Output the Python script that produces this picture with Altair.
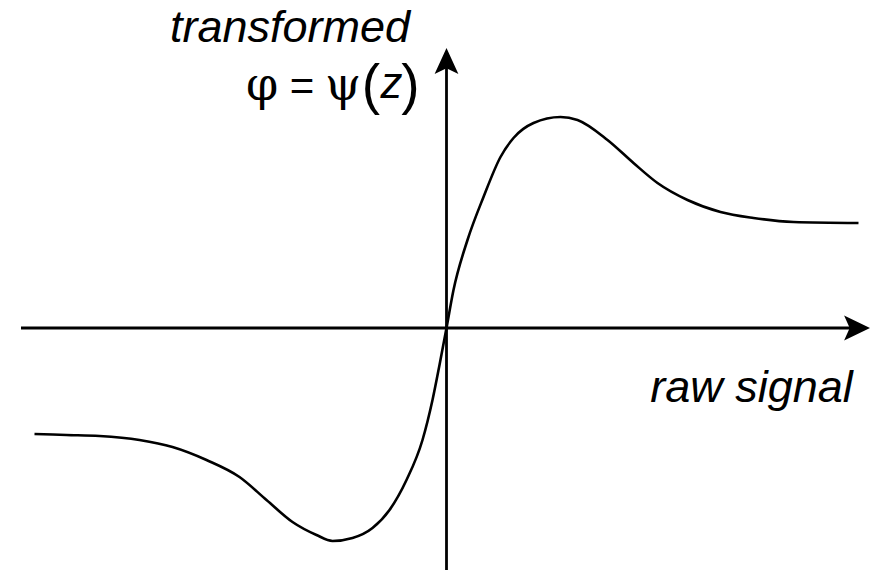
import altair as alt
import pandas as pd

# Sketch of a nonlinear transfer curve phi = psi(z), in arbitrary units
signal = [-4.12, -3.80, -3.47, -3.07, -2.74, -2.40, -2.07, -1.80, -1.54, -1.30,
          -1.14, -0.94, -0.74, -0.57, -0.40, -0.24, -0.14, -0.07, 0.00, 0.07,
          0.21, 0.37, 0.54, 0.67, 0.87, 1.14, 1.31, 1.61, 1.87, 2.11,
          2.41, 2.74, 3.07, 3.47, 4.12]
response = [-1.06, -1.07, -1.08, -1.12, -1.19, -1.32, -1.49, -1.72, -1.94, -2.07,
            -2.13, -2.10, -2.00, -1.82, -1.52, -1.12, -0.72, -0.37, 0.00, 0.38,
            0.88, 1.31, 1.71, 1.90, 2.05, 2.11, 2.08, 1.88, 1.65, 1.45,
            1.28, 1.16, 1.10, 1.06, 1.05]

x_label = "raw signal"
y_label = "transformed"
formula_greek = ["φ", "ψ"]
formula_equals = ["="]
formula_paren = ["(", ")"]
formula_var = ["z"]

X_DOMAIN = [-4.465, 4.335]
Y_DOMAIN = [-2.42, 3.28]


def X(field):
    return alt.X(field, type="quantitative",
                 scale=alt.Scale(domain=X_DOMAIN, nice=False, zero=False), axis=None)


def Y(field):
    return alt.Y(field, type="quantitative",
                 scale=alt.Scale(domain=Y_DOMAIN, nice=False, zero=False), axis=None)


def glyphs(labels, xpos, ypos, **style):
    df = pd.DataFrame({"label": labels, "x": xpos, "y": [ypos] * len(labels)})
    return alt.Chart(df).mark_text(
        align="center", baseline="alphabetic", color="black", **style
    ).encode(x=X("x"), y=Y("y"), text="label:N")


curve_df = pd.DataFrame({"z": signal, "phi": response})

curve = alt.Chart(curve_df).mark_line(
    color="black", strokeWidth=2.6, interpolate="monotone"
).encode(x=X("z"), y=Y("phi"), order="z:Q")

# Axis lines through the origin
x_axis = alt.Chart(pd.DataFrame({"x": [-4.255], "x2": [4.10], "y": [0.0]})).mark_rule(
    color="black", strokeWidth=2.8
).encode(x=X("x"), x2="x2:Q", y=Y("y"))

y_axis = alt.Chart(pd.DataFrame({"y": [-2.45], "y2": [2.66], "x": [0.0]})).mark_rule(
    color="black", strokeWidth=2.8
).encode(y=Y("y"), y2="y2:Q", x=X("x"))

# Arrowheads
arrow_right = alt.Chart(pd.DataFrame({"x": [4.095], "y": [0.0]})).mark_point(
    shape="M1,0 L-0.85,-0.9 L-0.45,0 L-0.85,0.9 Z",
    size=784, filled=True, color="black", opacity=1, strokeWidth=0
).encode(x=X("x"), y=Y("y"))

arrow_up = alt.Chart(pd.DataFrame({"x": [0.0], "y": [2.66]})).mark_point(
    shape="M0,-1 L0.85,0.85 L0,0.45 L-0.85,0.85 Z",
    size=784, filled=True, color="black", opacity=1, strokeWidth=0
).encode(x=X("x"), y=Y("y"))

# Axis titles
titles_df = pd.DataFrame({
    "label": [x_label, y_label],
    "x": [3.05, -1.565],
    "y": [-0.74, 2.86],
})
titles = alt.Chart(titles_df).mark_text(
    font="Liberation Sans", fontStyle="italic", fontSize=45,
    align="center", baseline="alphabetic", color="black"
).encode(x=X("x"), y=Y("y"), text="label:N")

# Formula phi = psi(z), set glyph by glyph
greek = glyphs(formula_greek, [-1.845, -1.035], 2.28, font="DejaVu Serif", fontSize=46)
equals = glyphs(formula_equals, [-1.445], 2.28, font="Liberation Sans", fontSize=42)
paren = glyphs(formula_paren, [-0.755, -0.36], 2.25, font="Liberation Sans", fontSize=55)
var = glyphs(formula_var, [-0.55], 2.30, font="Liberation Sans", fontStyle="italic", fontSize=44)

chart = alt.layer(
    x_axis, y_axis, arrow_right, arrow_up, curve, titles, greek, equals, paren, var
).properties(
    width=880, height=570, autosize=alt.AutoSizeParams(type="none"), padding=0,
    background="white"
).configure_view(stroke=None)

chart.save("out.html", embed_options={"renderer": "svg", "actions": False})
